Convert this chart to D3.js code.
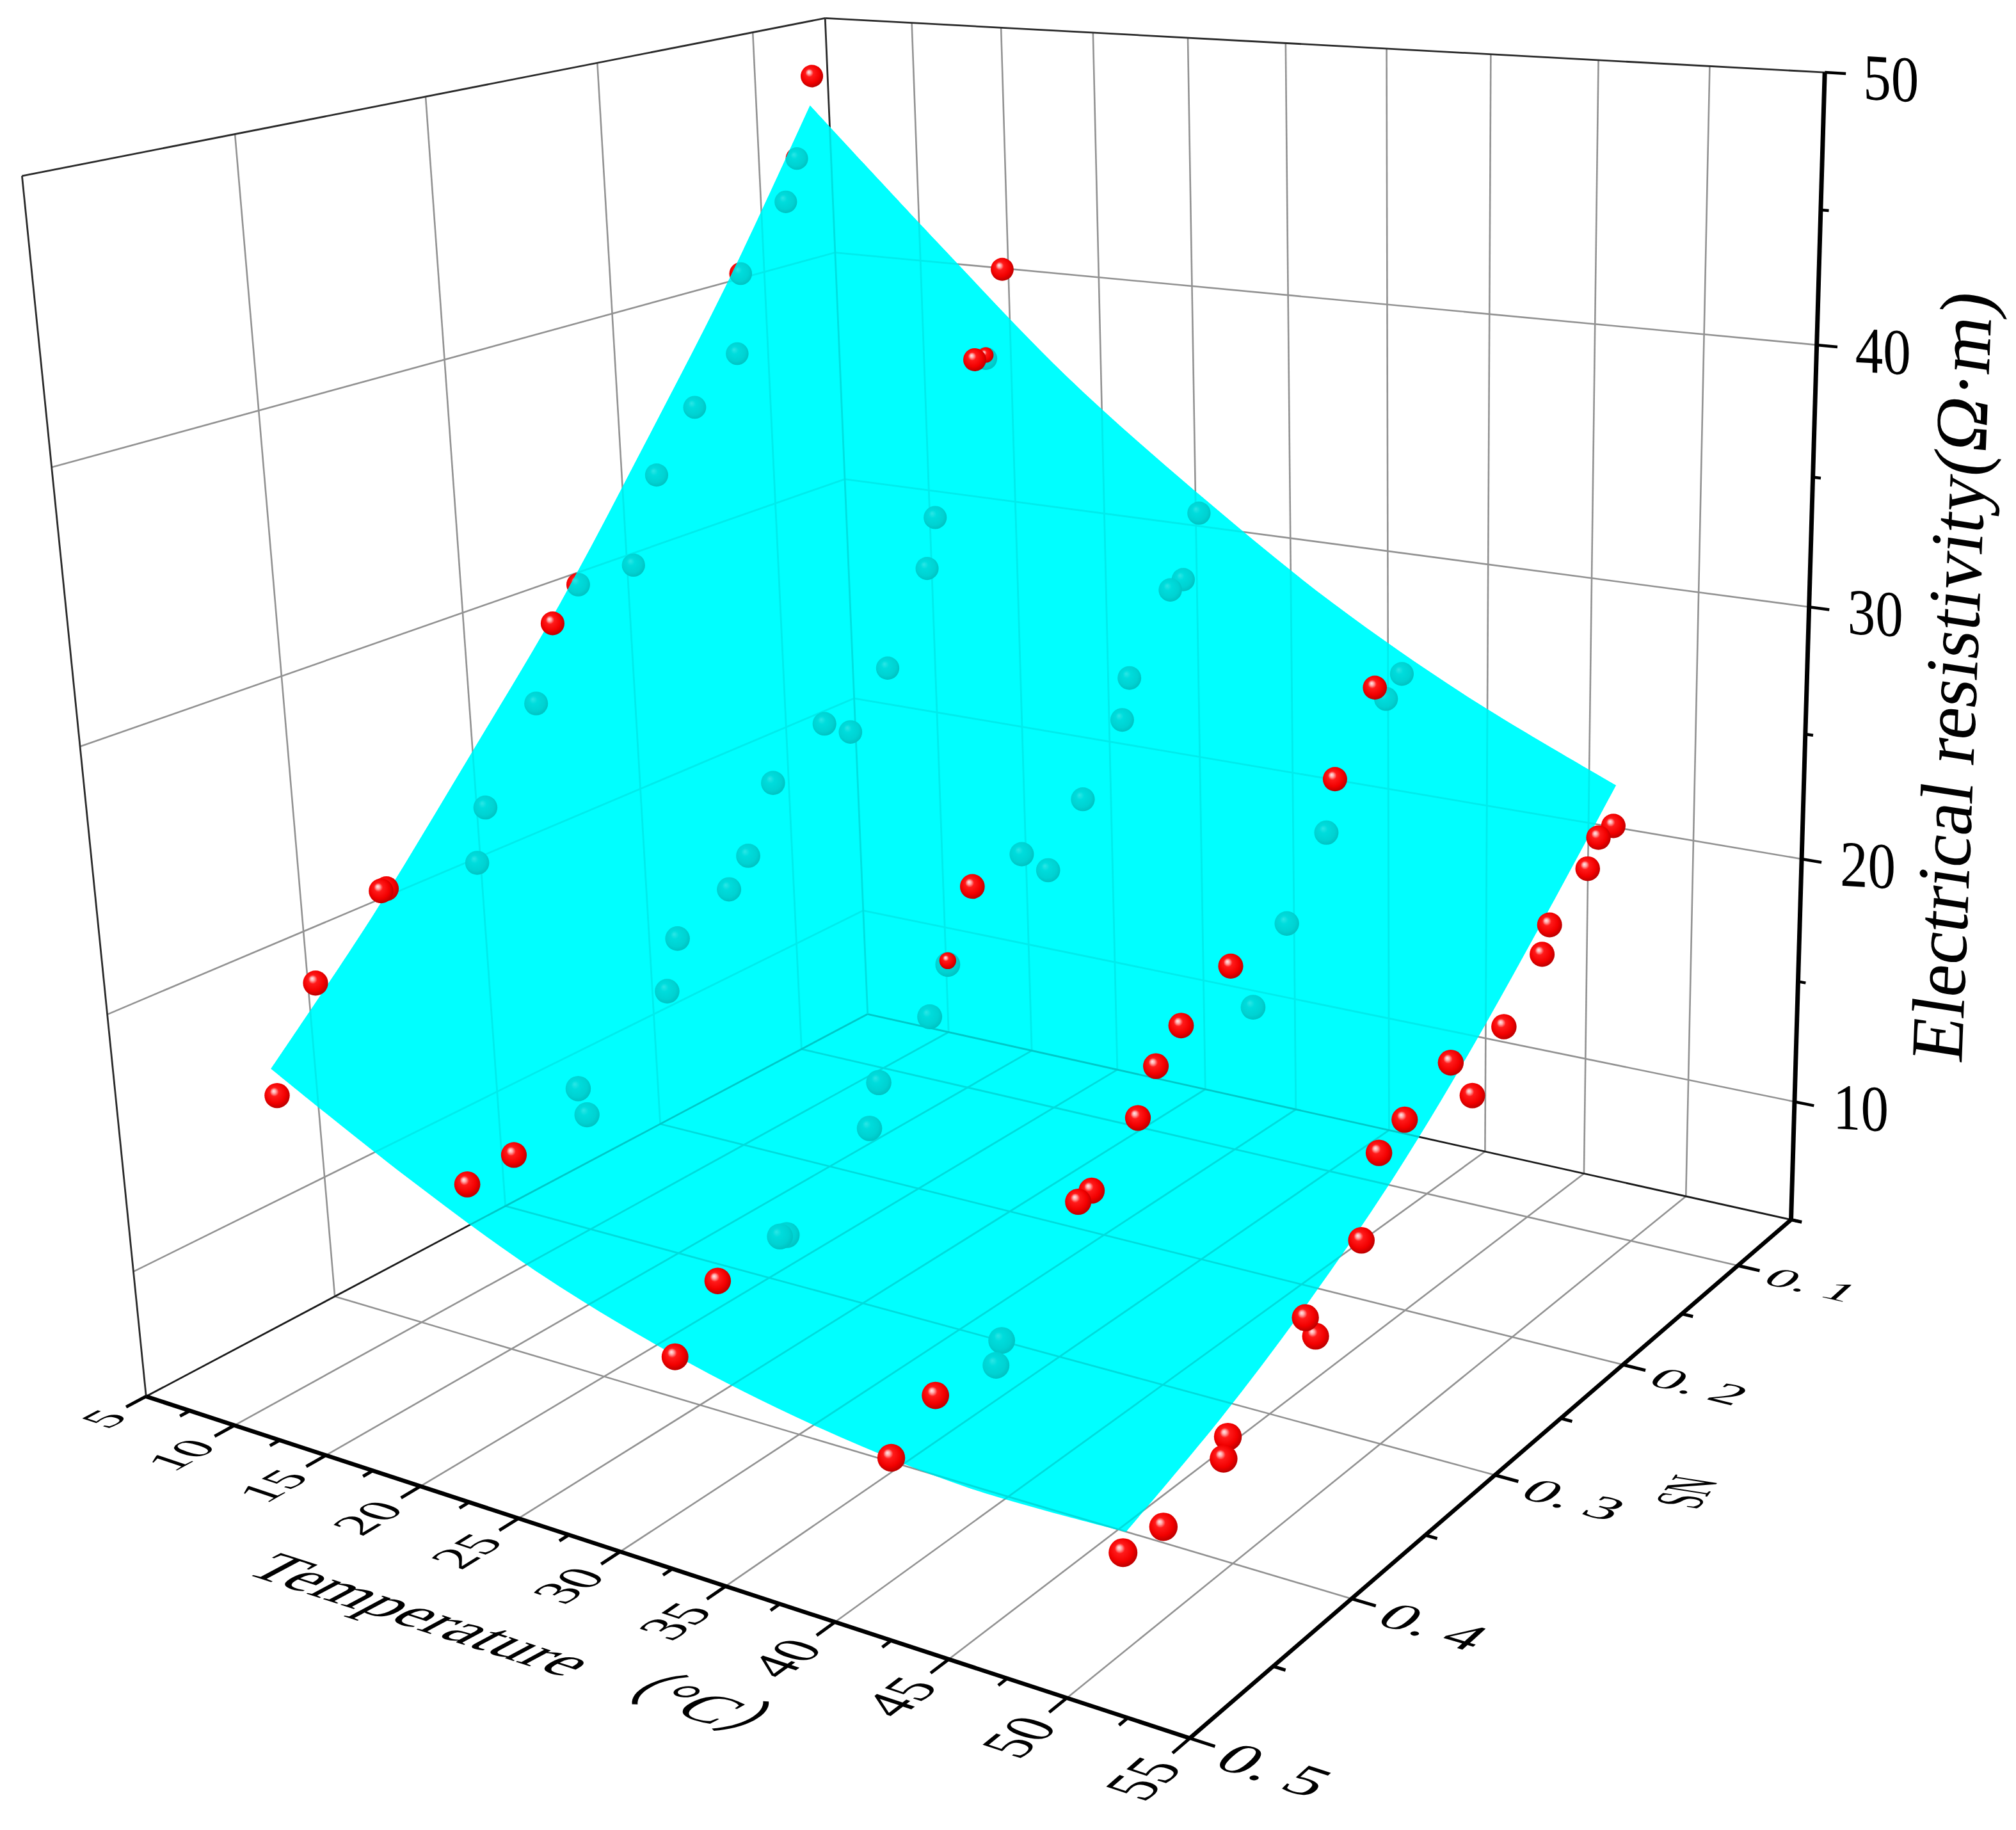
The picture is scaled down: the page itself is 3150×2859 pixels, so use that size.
<!DOCTYPE html>
<html><head><meta charset="utf-8">
<script src="https://cdn.jsdelivr.net/npm/d3@7"></script>
<style>html,body{margin:0;background:#fff}text{font-family:"Liberation Serif","Noto Sans CJK SC",serif;fill:#000}</style>
</head><body><svg id="chart" width="3150" height="2859"></svg>
<script>
// ---------- data ----------
const temperatures=[5,15.5,26,36.5,47];
const snT5 =[.061,.074,.083,.116,.121,.151,.178,.196,.231,.248,.261,.295,.302,.354,.357,.396,.421];
const zT5  =[47.7,44.4,42.7,40.2,36.9,35.2,32.9,29.5,29.5,28.3,25.3,21.9,19.8,20.3,20.3,17.8,14.1];
const snT15=[.061,.075,.083,.115,.122,.152,.179,.196,.231,.249,.262,.295,.303,.354,.358,.396,.422];
const zT15 =[40.2,36.7,36.8,30.8,28.8,25.3,23.3,24.1,22.6,20.1,19.1,18.1,16.2,12.9,14.1,12.8,12.6];
const snT26=[.062,.075,.085,.117,.123,.153,.179,.197,.231,.249,.262,.296,.303,.356,.360,.397,.423];
const zT26 =[30.9,28.4,28.2,25.3,23.7,21.2,19.0,20.2,19.9,17.3,15.6,14.1,12.5,10.2,10.3,10.0,8.1];
const snT36=[.063,.076,.085,.117,.124,.155,.181,.197,.233,.251,.264,.296,.305,.356,.360,.397,.424];
const zT36 =[25.4,24.7,25.4,22.5,20.5,17.7,15.1,17.3,16.1,15.1,13.5,11.8,11.7,8.3,7.5,7.9,6.7];
const snT47=[.065,.078,.087,.119,.125,.156,.181,.198,.233,.252,.265,.298,.305,.358,.361,.400,.425];
const zT47 =[20.6,20.5,19.5,18.2,17.2,15.3,13.4,15.3,14.3,13.7,10.8,8.4,9.4,7.1,6.4,5.6,5.8];
// f = in front of the surface, b = behind it, x = pokes through it
const sideT5 ="fbbbbbbbbfbbbffff";
const sideT15="fxfbbbbbbbbbbbbff";
const sideT26="bbbbbbbbfxbbbbbff";
const sideT36="bbffbbbffffffbbff";
const sideT47="fffffffffffffffff";
const snLists=[snT5,snT15,snT26,snT36,snT47], zLists=[zT5,zT15,zT26,zT36,zT47], sideLists=[sideT5,sideT15,sideT26,sideT36,sideT47];
const surfaceT=[5,12,19,26,33,40,47];
const surfaceSN=[.0632,.1231,.1831,.2430,.3030,.3630,.4229];
const surfaceZ=[
[46.49,40.17,34.45,28.97,24.13,19.43,15.25],
[41.18,35.01,29.46,24.33,19.94,15.87,12.39],
[36.07,30.16,24.88,20.17,16.25,12.79,9.92],
[31.78,26.22,21.28,16.98,13.50,10.53,8.15],
[27.94,22.91,18.42,14.58,11.51,8.97,6.97],
[24.79,20.39,16.39,12.98,10.28,8.07,6.36],
[22.21,18.63,15.23,12.27,9.90,7.97,6.47]];
const tTicks=[5,10,15,20,25,30,35,40,45,50,55];
const tMinor=[7.5,12.5,17.5,22.5,27.5,32.5,37.5,42.5,47.5,52.5];
const snTicks=[.5,.4,.3,.2,.1];
const snLabels=["0. 5","0. 4","0. 3","0. 2","0. 1"];
const snMinor=[.45,.35,.25,.15,.05];
const zTicks=[10,20,30,40,50];
const zMinor=[5,15,25,35,45];
const tGrid=[10,15,20,25,30,35,40,45,50];
const snGrid=[.1,.2,.3,.4];
const zGrid=[10,20,30,40];

// ---------- perspective camera ----------
const sx=d3.scaleLinear([5,55],[0,1]), sy=d3.scaleLinear([.05,.5],[0,1]), sz=d3.scaleLinear([5,50],[0,1]);
const cam=[1.0642,-1.1715,-0.1589,1.3557,0.0634,0.1758,-1.5580,1.5843,-0.1353,-0.1932,-0.0717];
const depth=(T,S,Z)=>cam[8]*sx(T)+cam[9]*sy(S)+cam[10]*sz(Z)+1;
const proj=(T,S,Z)=>{const u=sx(T),v=sy(S),w=sz(Z),d=depth(T,S,Z);
  return [1000*(cam[0]*u+cam[1]*v+cam[2]*w+cam[3])/d,1000*(cam[4]*u+cam[5]*v+cam[6]*w+cam[7])/d];};
const line=d3.line();
const seg=(a,b)=>line([proj(...a),proj(...b)]);

const svg=d3.select("#chart");
const defs=svg.append("defs");
function grad(id,stops){const g=defs.append("radialGradient").attr("id",id).attr("cx",.46).attr("cy",.44).attr("r",.56).attr("fx",.36).attr("fy",.32);
  stops.forEach(s=>g.append("stop").attr("offset",s[0]).attr("stop-color",s[1]));}
grad("red",[[0,"#ffeaea"],[.14,"#ffa8a8"],[.32,"#ff1a1a"],[.72,"#f20000"],[1,"#bc0000"]]);
grad("teal",[[0,"#2ce6e6"],[.3,"#00dcdc"],[.75,"#00d2d2"],[1,"#00c2c2"]]);

// ---------- points ----------
const points=[];
temperatures.forEach((T,i)=>snLists[i].forEach((s,j)=>points.push({T,SN:s,Z:zLists[i][j],side:sideLists[i][j]})));
points.forEach(p=>{p.pos=proj(p.T,p.SN,p.Z);p.r=16.3/depth(p.T,p.SN,p.Z);});
points.sort((a,b)=>a.r-b.r);

// ---------- surface outline: four smooth edges ----------
const last=surfaceT.length-1,lastS=surfaceSN.length-1;
const smooth=d3.line().curve(d3.curveCatmullRom);
const edges=[
 surfaceT.map((t,i)=>proj(t,surfaceSN[0],surfaceZ[i][0])),
 surfaceSN.map((s,j)=>proj(surfaceT[last],s,surfaceZ[last][j])),
 surfaceT.map((t,i)=>proj(t,surfaceSN[lastS],surfaceZ[i][lastS])).reverse(),
 surfaceSN.map((s,j)=>proj(surfaceT[0],s,surfaceZ[0][j])).reverse()];
const outlineD=edges.map((e,i)=>{const d=smooth(e);return i?d.replace(/^M/,"L"):d;}).join("")+"Z";
defs.append("clipPath").attr("id","onSurface").append("path").attr("d",outlineD);

// ---------- walls and floor ----------
function gridLines(g,wall,floor,w,frame,frameW,floorEdge){
  const l=(a,b,c,wd=w)=>g.append("path").attr("d",seg(a,b)).attr("fill","none").attr("stroke",c).attr("stroke-width",wd);
  tGrid.forEach(t=>{l([t,.5,5],[t,.05,5],floor);l([t,.05,5],[t,.05,50],wall);});
  snGrid.forEach(s=>{l([5,s,5],[55,s,5],floor);l([5,s,5],[5,s,50],wall);});
  zGrid.forEach(z=>{l([5,.5,z],[5,.05,z],wall);l([5,.05,z],[55,.05,z],wall);});
  l([5,.5,5],[5,.05,5],floorEdge,frameW);l([5,.05,5],[55,.05,5],floorEdge,frameW);
  l([5,.05,5],[5,.05,50],frame,frameW);l([5,.5,5],[5,.5,50],frame,frameW);
  l([5,.5,50],[5,.05,50],frame,frameW);l([5,.05,50],[55,.05,50],frame,frameW);
}
gridLines(svg.append("g"),"#929292","#929292",2.6,"#2a2a2a",2.8,"#1a1a1a");

// ---------- marks behind the surface ----------
const ball=(g,d,fill)=>g.selectAll(null).data(d).join("circle").attr("cx",p=>p.pos[0]).attr("cy",p=>p.pos[1]).attr("r",p=>p.r).attr("fill",`url(#${fill})`);
ball(svg.append("g"),points.filter(p=>p.side==="b"),"red");

// ---------- surface mesh ----------
const mesh=svg.append("g").attr("clip-path","url(#onSurface)");
surfaceT.slice(0,-1).forEach((t,i)=>surfaceSN.slice(0,-1).forEach((s,j)=>{
  const q=[proj(t,s,surfaceZ[i][j]),proj(surfaceT[i+1],s,surfaceZ[i+1][j]),proj(surfaceT[i+1],surfaceSN[j+1],surfaceZ[i+1][j+1]),proj(t,surfaceSN[j+1],surfaceZ[i][j+1])];
  mesh.append("path").attr("d",line(q)+"Z").attr("fill","#00ffff");
}));
svg.append("path").attr("d",outlineD).attr("fill","#00ffff");

const seen=svg.append("g").attr("clip-path","url(#onSurface)");
gridLines(seen,"#00ecec","#00dcdc",2.8,"#00e0e0",2.8,"#00c8c8");
ball(seen,points.filter(p=>p.side==="b"),"teal");

// ---------- marks through and in front ----------
const poke=points.filter(p=>p.side==="x");
ball(svg.append("g"),poke,"teal");
svg.append("g").selectAll(null).data(poke).join("circle").attr("cx",p=>p.pos[0]).attr("cy",p=>p.pos[1]-p.r*.3).attr("r",p=>p.r*.68).attr("fill","url(#red)");
ball(svg.append("g"),points.filter(p=>p.side==="f"),"red");

// ---------- axes ----------
const ax=svg.append("g").attr("fill","none").attr("stroke","#000").attr("stroke-linecap","butt");
const axis=(a,b,w)=>ax.append("path").attr("d",seg(a,b)).attr("stroke-width",w);
axis([5,.5,5],[55,.5,5],6.5);
axis([55,.5,5],[55,.05,5],6.5);
axis([55,.05,5],[55,.05,50],7);
tTicks.forEach(t=>axis([t,.5,5],[t,.51,5],5));
tMinor.forEach(t=>axis([t,.5,5],[t,.505,5],5));
snTicks.forEach(s=>axis([55,s,5],[56,s,5],5));
snMinor.forEach(s=>axis([55,s,5],[55.5,s,5],5));
zTicks.forEach(z=>axis([55,.05,z],[55.9,.05,z],4.5));
zMinor.forEach(z=>axis([55,.05,z],[55.35,.05,z],4.5));

// ---------- labels lying in the picture's planes ----------
const t=svg.append("g");
function planeText(str,at,read,up,anchor){
  const o=proj(...at),a=proj(at[0]+read[0],at[1]+read[1],at[2]+read[2]),b=proj(at[0]+up[0],at[1]+up[1],at[2]+up[2]);
  const m=[(a[0]-o[0])/100,(a[1]-o[1])/100,-(b[0]-o[0])/100,-(b[1]-o[1])/100,o[0],o[1]];
  t.append("text").attr("font-size",100).attr("text-anchor",anchor).attr("y",33.8).attr("transform",`matrix(${m.join(",")})`).text(str);
}
tTicks.forEach(v=>planeText(String(v),[v,.5153,5],[0,-.0234,0],[-2.5,0,0],"end"));
snTicks.forEach((v,i)=>planeText(snLabels[i],[58.45,v+.002,5],[2.55,0,0],[0,-.024,0],"middle"));
zTicks.forEach(v=>{const p=proj(55,.05,v);
  t.append("text").attr("font-size",100).attr("y",33.8).attr("transform",`matrix(.87,.05,0,1.02,${p[0]+60},${p[1]+7})`).text(String(v));});
t.append("text").attr("font-size",100).attr("transform","matrix(1.0,.325,-.9,.48,378,2457)").text("Temperature （°C）");
t.append("text").attr("font-size",100).attr("text-anchor","middle").attr("y",33).attr("transform","matrix(.266,-.36,1.02,.16,2635,2331)").text("SN");
t.append("text").attr("font-size",100).attr("transform","matrix(.045,-1.14,1.16,.18,3065,1663)").text("Electrical resistivity(Ω·m)");
</script></body></html>
